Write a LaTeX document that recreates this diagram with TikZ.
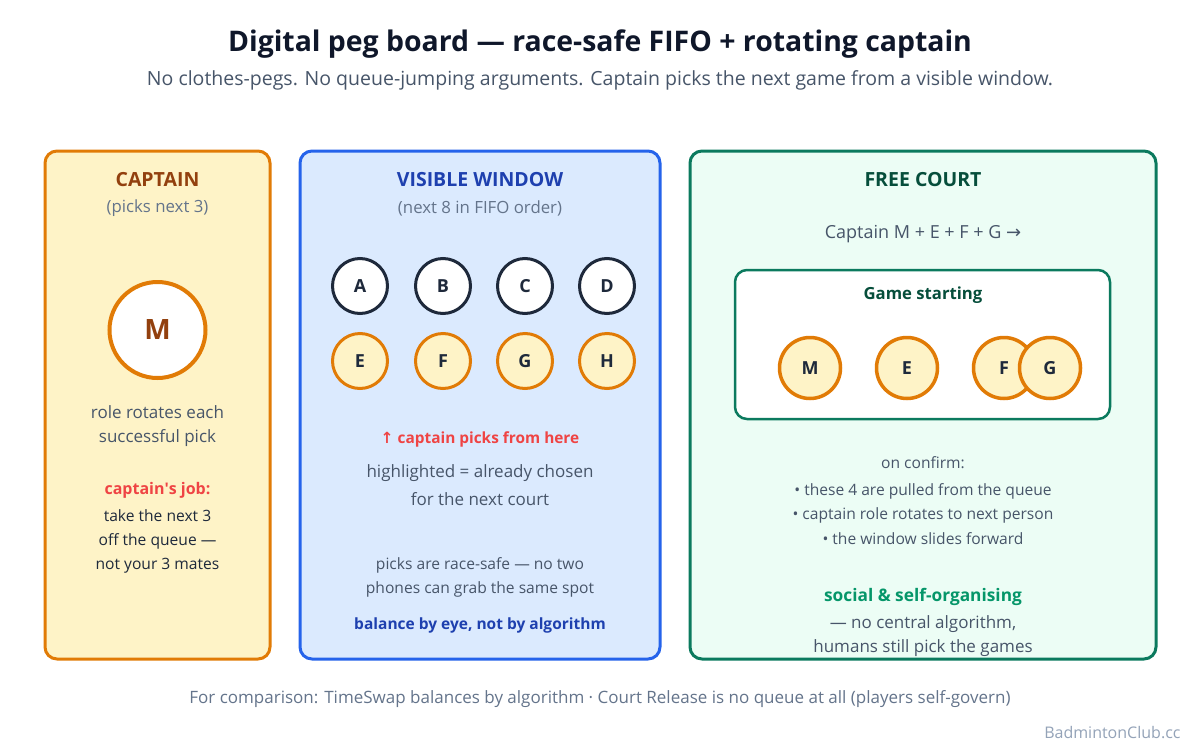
\documentclass[tikz,border=0pt]{standalone}
\usepackage{fontspec}
\setmainfont{Open Sans}
\newfontfamily\symfont{DejaVu Sans}
\usepackage{xcolor}
\usepackage{tikz}
\usetikzlibrary{positioning}
\definecolor{inkdark}{HTML}{0F172A}
\definecolor{inkslate}{HTML}{1E293B}
\definecolor{inkgray}{HTML}{475569}
\definecolor{inklight}{HTML}{64748B}
\definecolor{inkfaint}{HTML}{94A3B8}
\definecolor{amberfill}{HTML}{FEF3C7}
\definecolor{amberline}{HTML}{E17B06}
\definecolor{amberink}{HTML}{92400E}
\definecolor{bluefill}{HTML}{DBEAFE}
\definecolor{blueline}{HTML}{2563EB}
\definecolor{blueink}{HTML}{1E40AF}
\definecolor{greenfill}{HTML}{ECFDF5}
\definecolor{greenline}{HTML}{0B7A5E}
\definecolor{greenink}{HTML}{064E3B}
\definecolor{greenbright}{HTML}{059669}
\definecolor{alertred}{HTML}{EF4444}
\newcommand{\fsz}[1]{\fontsize{#1}{#1}\selectfont}
\tikzstyle{panel} = [rounded corners=12pt, line width=3pt]
\tikzstyle{heading} = [font=\bfseries\fsz{19.5}, anchor=center]
\tikzstyle{sub} = [font=\fsz{16.8}, text=inklight]
\tikzstyle{body} = [font=\fsz{17}, text=inkgray]
\tikzstyle{small} = [font=\fsz{15.6}, text=inkgray]
\tikzstyle{peg} = [circle, minimum size=55pt, inner sep=0pt, line width=3pt, font=\bfseries\fsz{18}, text=inkslate]
\tikzstyle{queued} = [peg, draw=inkslate, fill=white]
\tikzstyle{chosen} = [peg, draw=amberline, fill=amberfill]
\tikzstyle{courtpeg} = [chosen, minimum size=61pt, line width=3.5pt]

\begin{document}
\begin{tikzpicture}[x=1pt,y=-1pt]
\useasboundingbox[fill=white] (0,0) rectangle (1200,750);

% title
\node[font=\bfseries\fsz{28.4}, text=inkdark] (title) at (600,44) {Digital peg board — race-safe FIFO + rotating captain};
\node[font=\fsz{19.5}, text=inkgray] (subtitle) at (600,80) {No clothes-pegs. No queue-jumping arguments. Captain picks the next game from a visible window.};

% captain panel
\draw[panel, fill=amberfill, draw=amberline] (45,151) rectangle (270,659);
\node[heading, text=amberink] (cap-head) at (157.5,180) {CAPTAIN};
\node[sub] (cap-sub) at (157.5,208) {(picks next 3)};
\node[circle, minimum size=96pt, inner sep=0pt, line width=4pt, draw=amberline, fill=white, font=\bfseries\fsz{28}, text=amberink] (cap-m) at (157.5,330) {M};
\node[body, align=center] (cap-role) at (157.5,426) {role rotates each\\[7pt]successful pick};
\node[font=\bfseries\fsz{16}, text=alertred] (cap-job) at (157.5,490) {captain\textquotesingle s job:};
\node[font=\fsz{15.6}, text=inkslate, align=center] (cap-rule) at (157.5,541) {take the next 3\\[8.4pt]off the queue —\\[8.4pt]not your 3 mates};

% visible window panel
\draw[panel, fill=bluefill, draw=blueline] (300,151) rectangle (660,659);
\node[heading, text=blueink] (win-head) at (480,180) {VISIBLE WINDOW};
\node[sub] (win-sub) at (480,208) {(next 8 in FIFO order)};
\node[queued] (win-1) at (360,286) {A};
\node[queued] (win-2) at (443,286) {B};
\node[queued] (win-3) at (525,286) {C};
\node[queued] (win-4) at (607,286) {D};
\node[chosen] (win-5) at (360,361) {E};
\node[chosen] (win-6) at (443,361) {F};
\node[chosen] (win-7) at (525,361) {G};
\node[chosen] (win-8) at (607,361) {H};
\node[font=\bfseries\fsz{15.4}, text=alertred] (win-pick) at (480,439) {{\symfont ↑} captain picks from here};
\node[body, align=center] (win-note) at (480,485) {highlighted = already chosen\\[10pt]for the next court};
\node[small, align=center] (win-race) at (480,577) {picks are race-safe — no two\\[8.4pt]phones can grab the same spot};
\node[font=\bfseries\fsz{15.5}, text=blueink] (win-eye) at (480,625) {balance by eye, not by algorithm};

% free court panel
\draw[panel, fill=greenfill, draw=greenline] (690,151) rectangle (1156,659);
\node[heading, text=greenink] (court-head) at (923,180) {FREE COURT};
\node[font=\fsz{18}, text=inkgray] (court-sum) at (923,234) {Captain M + E + F + G {\symfont →}};
\draw[rounded corners=12pt, line width=2.5pt, fill=white, draw=greenline] (735,270) rectangle (1110,419);
\node[font=\bfseries\fsz{16.7}, text=greenink] (court-game) at (923,295) {Game starting};
\node[courtpeg] (court-1) at (810,368) {M};
\node[courtpeg] (court-2) at (907,368) {E};
\node[courtpeg] (court-3) at (1004,368) {F};
\node[courtpeg] (court-4) at (1050,368) {G};
\node[small] (court-conf) at (923,463) {on confirm:};
\node[small, align=center] (court-list) at (923,514) {• these 4 are pulled from the queue\\[8.4pt]• captain role rotates to next person\\[8.4pt]• the window slides forward};
\node[font=\bfseries\fsz{17.3}, text=greenbright] (court-social) at (923,597) {social \& self-organising};
\node[body, align=center] (court-human) at (923,636) {— no central algorithm,\\[7pt]humans still pick the games};

% footer
\node[font=\fsz{17}, text=inklight] (footer) at (600,699) {For comparison: TimeSwap balances by algorithm · Court Release is no queue at all (players self-govern)};
\node[font=\fsz{16}, text=inkfaint, anchor=east] (brand) at (1184,733) {BadmintonClub.cc};
\end{tikzpicture}
\end{document}
